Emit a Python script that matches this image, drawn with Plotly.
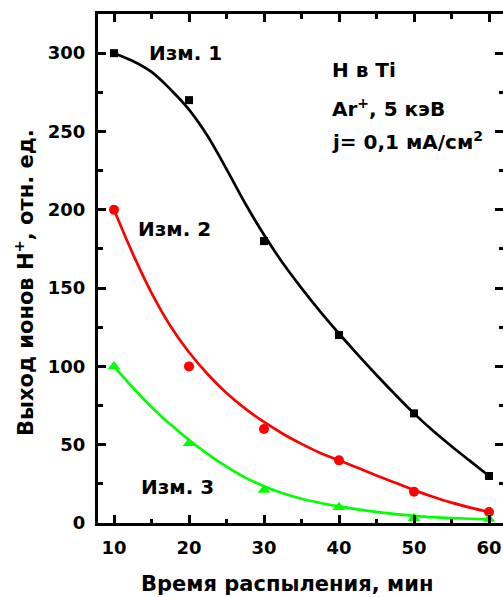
import plotly.graph_objects as go

# ---- data ----
time_min = [10, 20, 30, 40, 50, 60]
meas1 = [300, 270, 180, 120, 70, 30]
meas2 = [200, 100, 60, 40, 20, 7]
meas3 = [100, 51, 21, 10, 3, 2.5]

# fitted curves, every 2.5 min
fit_time = [10, 12.5, 15, 17.5, 20, 22.5, 25, 27.5, 30, 32.5, 35,
            37.5, 40, 42.5, 45, 47.5, 50, 52.5, 55, 57.5, 60]
fit1 = [300, 295, 288, 277, 264, 247, 226, 204, 184, 166, 150,
        135, 121, 107.5, 94.5, 82, 70, 59, 49, 39.5, 30]
fit2 = [200, 172, 147, 126, 109, 95, 83, 73, 64.5, 57, 50.5,
        44.7, 40, 35.2, 30.4, 25.7, 21, 16.8, 13, 9.8, 7]
fit3 = [100, 86.5, 74, 63, 53, 44, 36, 29, 23.5, 19, 15.5,
        12.8, 10.6, 8.7, 7.1, 5.7, 4.6, 3.7, 3.1, 2.7, 2.5]

x_ticks = [10, 20, 30, 40, 50, 60]
y_ticks = [0, 50, 100, 150, 200, 250, 300]

X_RANGE = [7.867, 61.867]
Y_RANGE = [0, 325]

FONT = "DejaVu Sans"
BLACK = "#000000"
RED = "#ff0000"
GREEN = "#00ff00"

fig = go.Figure()

for fy, col in [(fit1, BLACK), (fit2, RED), (fit3, GREEN)]:
    fig.add_trace(go.Scatter(x=fit_time, y=fy, mode="lines",
                             line=dict(color=col, width=2.7, shape="spline", smoothing=1.0),
                             hoverinfo="skip", showlegend=False))

fig.add_trace(go.Scatter(x=time_min, y=meas1, mode="markers",
                         marker=dict(symbol="square", size=8, color=BLACK), showlegend=False))
fig.add_trace(go.Scatter(x=time_min, y=meas2, mode="markers",
                         marker=dict(symbol="circle", size=10, color=RED), showlegend=False))
fig.add_trace(go.Scatter(x=time_min, y=meas3, mode="markers",
                         marker=dict(symbol="triangle-up", size=11, color=GREEN), showlegend=False))

# invisible trace for mirrored axes
fig.add_trace(go.Scatter(x=X_RANGE, y=Y_RANGE, xaxis="x2", yaxis="y2", mode="markers",
                         marker=dict(opacity=0), hoverinfo="skip", showlegend=False))

tickfont = dict(family=FONT, size=18, color="black", weight="bold")

common_ticks = dict(ticks="inside", ticklen=8, tickwidth=2.5, tickcolor="black",
                    showgrid=False, zeroline=False)

minor_x = dict(ticks="inside", ticklen=4.5, tickwidth=2.5, tickcolor="black", dtick=5, tick0=0)
minor_y = dict(ticks="inside", ticklen=4.5, tickwidth=2.5, tickcolor="black", dtick=25, tick0=0)

fig.update_layout(
    width=503, height=597,
    margin=dict(l=98, r=0, t=14, b=74),
    paper_bgcolor="white", plot_bgcolor="white",
    showlegend=False,
    xaxis=dict(range=X_RANGE, tickvals=x_ticks, showline=True, linecolor="black", linewidth=3,
               tickfont=tickfont, ticklabelstandoff=6, minor=minor_x, **common_ticks),
    yaxis=dict(range=Y_RANGE, tickvals=y_ticks, showline=True, linecolor="black", linewidth=3,
               tickfont=tickfont, ticklabelstandoff=6, minor=minor_y, **common_ticks),
    xaxis2=dict(range=X_RANGE, overlaying="x", side="top", tickvals=x_ticks, showline=True,
                linecolor="black", linewidth=3, showticklabels=False, minor=minor_x,
                **common_ticks),
    yaxis2=dict(range=Y_RANGE, overlaying="y", side="right", tickvals=y_ticks, showline=False,
                showticklabels=False, minor=minor_y, **common_ticks),
)


def ann(text, x, y, xanchor="center", xref="x", yref="y", size=20, angle=0):
    fig.add_annotation(text=text, x=x, y=y, xref=xref, yref=yref, showarrow=False,
                       xanchor=xanchor, yanchor="middle", textangle=angle,
                       font=dict(family=FONT, size=size, color="black", weight="bold"))


ann("Изм. 1", 19.47, 300)
ann("Изм. 2", 18.07, 188)
ann("Изм. 3", 18.47, 23)
ann("H в Ti", 38.85, 289, xanchor="left", size=20)
ann("Ar<sup>+</sup>, 5 кэВ", 38.85, 265, xanchor="left", size=20)
ann("j= 0,1 мА/см<sup>2</sup>", 38.85, 244, xanchor="left", size=20)

# axis titles
ann("Время распыления, мин", (286.5 - 98) / 405, (523 - 584) / 509,
    xref="paper", yref="paper", size=21)
ann("Выход ионов H<sup>+</sup>, отн. ед.", (24 - 98) / 405, (523 - 283) / 509,
    xref="paper", yref="paper", size=21, angle=-90)

fig.write_html("out.html")
